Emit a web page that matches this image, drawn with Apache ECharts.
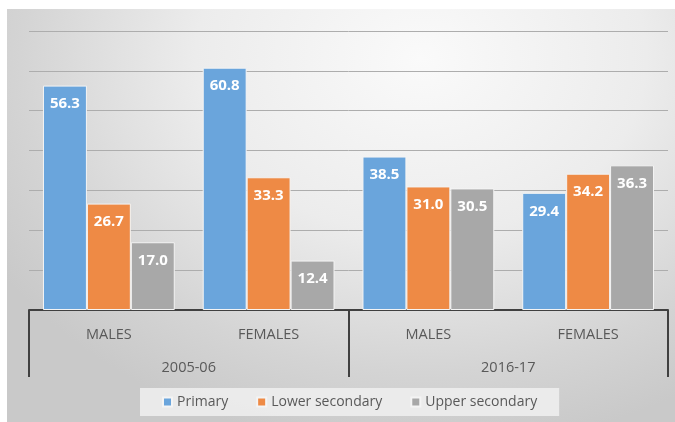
<!DOCTYPE html>
<html>
<head>
<meta charset="utf-8">
<script src="https://cdn.jsdelivr.net/npm/echarts@6/dist/echarts.min.js"></script>
<style>
  html, body { margin: 0; padding: 0; background: #fff; }
  .bg {
    position: absolute; left: 7px; top: 9px; width: 668px; height: 413px;
    background: radial-gradient(ellipse 75% 95% at 62% 12%, #fafafa 0%, #ececec 45%, #d4d4d4 80%, #c9c9c9 100%);
  }
  #mainChart { position: absolute; left: 0; top: 0; width: 675px; height: 422px; }
</style>
</head>
<body>
<div class="bg"></div>
<div id="mainChart"></div>
<script>
const categories = ["MALES", "FEMALES", "MALES", "FEMALES"];
const periods = ["2005-06", "2016-17"];
const seriesNames = ["Primary", "Lower secondary", "Upper secondary"];
const primary = [56.3, 60.8, 38.5, 29.4];
const lowerSecondary = [26.7, 33.3, 31.0, 34.2];
const upperSecondary = [17.0, 12.4, 30.5, 36.3];
const colorArr = ["#6aa5dc", "#ee8a45", "#a8a8a8"];

function barSeries(name, data, color) {
  return {
    name: name,
    type: "bar",
    data: data,
    barGap: "0%",
    barCategoryGap: "17.5%",
    itemStyle: { color: color, borderColor: "#f4f4f4", borderWidth: 1 },
    label: {
      show: true,
      position: "insideTop",
      distance: 11,
      color: "#fff",
      fontWeight: "bold",
      fontSize: 15,
      fontFamily: "Open Sans",
      formatter: p => p.value.toFixed(1)
    }
  };
}

let chart = echarts.init(document.getElementById("mainChart"));
let option = {
  backgroundColor: "transparent",
  animation: false,
  color: colorArr,
  grid: { left: 29, right: 7, top: 31, bottom: 112 },
  legend: {
    data: seriesNames,
    left: 140,
    top: 388,
    padding: [7, 22, 7, 22],
    backgroundColor: "rgba(240,240,240,0.85)",
    itemWidth: 9,
    itemHeight: 9,
    itemGap: 28,
    icon: "rect",
    textStyle: { color: "#595959", fontSize: 14, fontFamily: "Open Sans" }
  },
  xAxis: [
    {
      type: "category",
      data: categories,
      position: "bottom",
      axisLine: { lineStyle: { color: "#404040", width: 2 } },
      axisTick: { show: false },
      axisLabel: { color: "#595959", fontSize: 14.5, margin: 17, fontFamily: "Open Sans" }
    },
    {
      type: "category",
      data: periods,
      position: "bottom",
      axisLine: { show: false },
      axisTick: { show: true, length: 67, lineStyle: { color: "#404040", width: 2 } },
      axisLabel: { color: "#595959", fontSize: 14.5, margin: 50, fontFamily: "Open Sans" }
    }
  ],
  yAxis: {
    type: "value",
    min: 0,
    max: 70,
    interval: 10,
    axisLine: { show: false },
    axisTick: { show: false },
    axisLabel: { show: false },
    splitLine: { lineStyle: { color: "#adadad", width: 1 } }
  },
  series: [
    barSeries(seriesNames[0], primary, colorArr[0]),
    barSeries(seriesNames[1], lowerSecondary, colorArr[1]),
    barSeries(seriesNames[2], upperSecondary, colorArr[2])
  ]
};
chart.setOption(option);
window.addEventListener("resize", chart.resize);
</script>
</body>
</html>
